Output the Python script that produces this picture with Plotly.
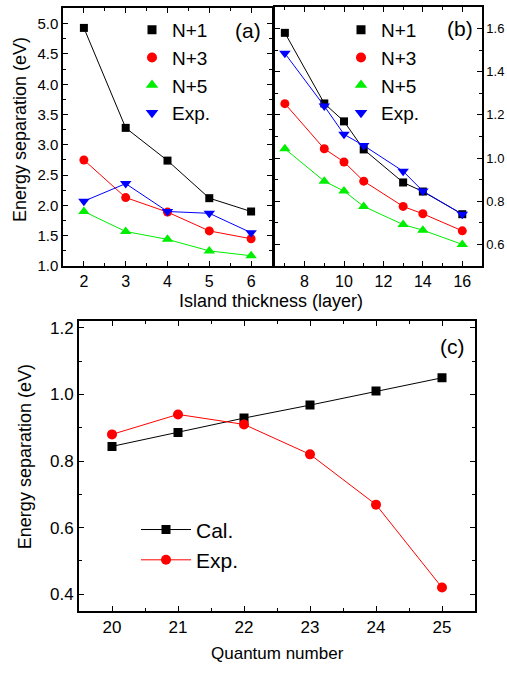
import plotly.graph_objects as go

W, H = 507, 675

# ---- data ----
thick_a = [2, 3, 4, 5, 6]
a_n1 = [4.93, 3.28, 2.74, 2.12, 1.90]
a_n3 = [2.75, 2.13, 1.89, 1.58, 1.45]
a_n5 = [1.90, 1.57, 1.44, 1.25, 1.17]
a_exp = [2.07, 2.36, 1.90, 1.87, 1.55]

thick_b = [7, 9, 10, 11, 13, 14, 16]
b_n1 = [1.58, 1.253, 1.17, 1.04, 0.887, 0.845, 0.74]
b_n3 = [1.252, 1.043, 0.982, 0.893, 0.776, 0.742, 0.663]
b_n5 = [1.043, 0.893, 0.847, 0.776, 0.692, 0.666, 0.60]
b_exp = [1.485, 1.241, 1.11, 1.058, 0.939, 0.847, 0.74]

qnum = [20, 21, 22, 23, 24, 25]
c_cal = [0.844, 0.886, 0.929, 0.968, 1.01, 1.05]
c_exp = [0.88, 0.94, 0.91, 0.82, 0.669, 0.42]

FONT = "Liberation Sans, Arial, sans-serif"

def px(x):
    return x / W

def py(y):
    return 1 - y / H

fig = go.Figure()

series_ab = [
    ("N+1", "black", "square", 8),
    ("N+3", "red", "circle", 9),
    ("N+5", "#00ee00", "triangle-up", 10),
    ("Exp.", "blue", "triangle-down", 10),
]

for vals, (name, col, sym, sz) in zip([a_n1, a_n3, a_n5, a_exp], series_ab):
    fig.add_trace(go.Scatter(x=thick_a, y=vals, mode="lines+markers", name=name,
                             line=dict(color=col, width=1),
                             marker=dict(color=col, symbol=sym, size=sz),
                             xaxis="x", yaxis="y", showlegend=False))
    fig.add_trace(go.Scatter(x=[None], y=[None], mode="markers", name=name,
                             marker=dict(color=col, symbol=sym, size=sz + 1),
                             xaxis="x", yaxis="y", legend="legend"))

for vals, (name, col, sym, sz) in zip([b_n1, b_n3, b_n5, b_exp], series_ab):
    fig.add_trace(go.Scatter(x=thick_b, y=vals, mode="lines+markers", name=name,
                             line=dict(color=col, width=1),
                             marker=dict(color=col, symbol=sym, size=sz),
                             xaxis="x2", yaxis="y2", showlegend=False))
    fig.add_trace(go.Scatter(x=[None], y=[None], mode="markers", name=name,
                             marker=dict(color=col, symbol=sym, size=sz + 1),
                             xaxis="x2", yaxis="y2", legend="legend2"))

fig.add_trace(go.Scatter(x=qnum, y=c_cal, mode="lines+markers", name="Cal.",
                         line=dict(color="black", width=1),
                         marker=dict(color="black", symbol="square", size=9),
                         xaxis="x3", yaxis="y3", legend="legend3"))
fig.add_trace(go.Scatter(x=qnum, y=c_exp, mode="lines+markers", name="Exp.",
                         line=dict(color="red", width=1),
                         marker=dict(color="red", symbol="circle", size=10),
                         xaxis="x3", yaxis="y3", legend="legend3"))

def ax(**kw):
    base = dict(showline=True, linecolor="black", linewidth=1.5, mirror="allticks",
                ticks="inside", ticklen=5, tickwidth=1, tickcolor="black",
                showgrid=False, zeroline=False,
                tickfont=dict(family=FONT, size=16, color="black"))
    base.update(kw)
    return base

minor = lambda d: dict(dtick=d, ticks="inside", ticklen=3, tickcolor="black", tickwidth=1, showgrid=False)

fig.update_layout(
    width=W, height=H, margin=dict(l=0, r=0, t=0, b=0),
    paper_bgcolor="white", plot_bgcolor="white",
    font=dict(family=FONT, color="black"),
    xaxis=ax(domain=[px(63), px(272)], range=[1.5, 6.5], dtick=1, minor=minor(0.5),
             anchor="y"),
    yaxis=ax(domain=[py(268), py(6)], range=[1.0, 5.26], dtick=0.5, tickformat=".1f",
             minor=minor(0.25), anchor="x",
             tickfont=dict(family=FONT, size=15, color="black")),
    xaxis2=ax(domain=[px(275), px(482)], range=[6.5, 17], dtick=2, tick0=8, minor=minor(1),
              anchor="y2"),
    yaxis2=ax(domain=[py(268), py(5)], range=[0.5, 1.7], dtick=0.2, tick0=0.6, tickformat=".1f",
              minor=minor(0.1), anchor="x2", side="right",
              tickfont=dict(family=FONT, size=13, color="black")),
    xaxis3=ax(domain=[px(79), px(475)], range=[19.5, 25.5], dtick=1, minor=minor(0.5),
              anchor="y3", linewidth=2, tickfont=dict(family=FONT, size=17, color="black")),
    yaxis3=ax(domain=[py(618), py(324)], range=[0.35, 1.22], dtick=0.2, tick0=0.4, tickformat=".1f",
              minor=minor(0.1), anchor="x3", linewidth=2,
              tickfont=dict(family=FONT, size=17, color="black")),
    legend=dict(x=px(132), y=py(9), xanchor="left", yanchor="top",
                bgcolor="rgba(0,0,0,0)", font=dict(family=FONT, size=19),
                itemwidth=30, tracegroupgap=0),
    legend2=dict(x=px(341), y=py(9), xanchor="left", yanchor="top",
                 bgcolor="rgba(0,0,0,0)", font=dict(family=FONT, size=19),
                 itemwidth=30, tracegroupgap=0),
    legend3=dict(x=px(136), y=py(515), xanchor="left", yanchor="top",
                 bgcolor="rgba(0,0,0,0)", font=dict(family=FONT, size=21),
                 itemwidth=50, tracegroupgap=0),
)

ann = [
    dict(text="(a)", x=px(248), y=py(29), size=21),
    dict(text="(b)", x=px(460), y=py(27), size=21),
    dict(text="(c)", x=px(452), y=py(350), size=21),
    dict(text="Island thickness (layer)", x=px(271), y=py(304), size=18),
    dict(text="Quantum number", x=px(277), y=py(661), size=17),
]
for a in ann:
    fig.add_annotation(text=a["text"], x=a["x"], y=a["y"], xref="paper", yref="paper",
                       showarrow=False, xanchor="center", yanchor="middle",
                       font=dict(family=FONT, size=a["size"], color="black"))
fig.add_annotation(text="Energy separation (eV)", x=px(20), y=py(130), xref="paper", yref="paper",
                   showarrow=False, textangle=-90, xanchor="center", yanchor="middle",
                   font=dict(family=FONT, size=18, color="black"))
fig.add_annotation(text="Energy separation (eV)", x=px(25), y=py(462), xref="paper", yref="paper",
                   showarrow=False, textangle=-90, xanchor="center", yanchor="middle",
                   font=dict(family=FONT, size=18, color="black"))

fig.write_html("out.html", config={"displayModeBar": False},
               post_script="document.body.style.margin='0';")
